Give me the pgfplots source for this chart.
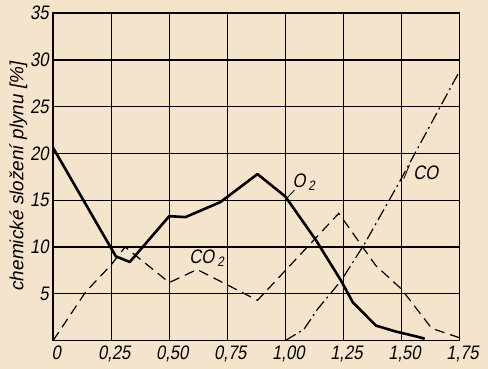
\documentclass[border=0pt]{standalone}
\usepackage{fontspec}
\setmainfont{Liberation Sans}[FakeStretch=0.85, FakeSlant=0.18]
\newfontfamily\labfont{Liberation Sans}[FakeSlant=0.18]
\usepackage{pgfplots}
\pgfplotsset{compat=1.18}
\usetikzlibrary{backgrounds}
\definecolor{bgc}{RGB}{245,228,204}
\begin{document}
\begin{tikzpicture}[show background rectangle, background rectangle/.style={fill=bgc, draw=none}, inner frame xsep=6pt, inner frame ysep=3pt]
\begin{axis}[
  scale only axis, width=406pt, height=327pt,
  xmin=0, xmax=1.75, ymin=0, ymax=35,
  xtick={0,0.25,0.5,0.75,1,1.25,1.5,1.75},
  xticklabels={0,{0,25},{0,50},{0,75},{1,00},{1,25},{1,50},{1,75}},
  ytick={5,10,15,20,25,30,35},
  /pgf/number format/assume math mode=true,
  tick label style={font=\fontsize{19.5}{22}\selectfont},
  major tick length=0pt,
  xticklabel style={yshift=-2pt, xshift=3pt},
  yticklabel style={xshift=-1pt},
  grid=major, grid style={black, line width=1.1pt},
  axis line style={line width=1.6pt},
  ylabel={\labfont\fontsize{19}{22}\selectfont chemické složení plynu [\%]},
  ylabel style={yshift=-4pt},
  clip=false,
]
\addplot[black, line width=2.6pt, line join=round] coordinates {
 (0,20.6) (0.27,9.0) (0.33,8.4) (0.50,13.3) (0.57,13.2) (0.72,14.8) (0.88,17.8)
 (1.0,15.4) (1.13,10.8) (1.24,6.4) (1.29,4.1) (1.39,1.6) (1.47,1.0) (1.57,0.4) (1.6,0.2)};
\addplot[black, line width=1.2pt, dash pattern=on 10pt off 6pt] coordinates {
 (0,0) (0.14,5.2) (0.25,8.1) (0.31,10.0) (0.50,6.2) (0.62,7.6) (0.88,4.3)
 (1.23,13.6) (1.39,8.0) (1.50,5.5) (1.63,1.3) (1.75,0.3)};
\addplot[black, line width=1.2pt, dash pattern=on 12pt off 4pt on 2pt off 4pt] coordinates {
 (1.0,0) (1.08,1.2) (1.14,3.4) (1.24,6.4) (1.34,10.3) (1.49,16.9) (1.75,28.8)};
\draw[line width=0.8pt] (axis cs:1.009,15.3) -- (axis cs:1.04,16.1);
\draw[line width=0.8pt] (axis cs:1.51,17.3) -- (axis cs:1.535,18.8);
\node[font=\fontsize{19.5}{22}\selectfont] at (axis cs:1.08,16.9) {O\kern3pt\textsubscript{2}};
\node[font=\fontsize{19.5}{22}\selectfont] at (axis cs:0.662,8.8) {CO\kern3pt\textsubscript{2}};
\node[font=\fontsize{19.5}{22}\selectfont] at (axis cs:1.605,17.9) {CO};
\end{axis}
\end{tikzpicture}
\end{document}
